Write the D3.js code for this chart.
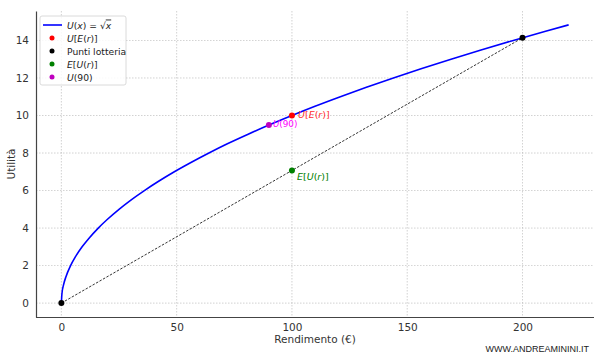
<!DOCTYPE html>
<html><head><meta charset="utf-8">
<script src="https://cdn.jsdelivr.net/npm/d3@7"></script>
<style>body{margin:0;background:#fff}svg{display:block;font-family:"DejaVu Sans",sans-serif}</style>
</head><body><svg id="c" width="600" height="358"></svg>
<script>
// curve samples U(x)
const curveX = [0,0.25,1,2,4,6,9,12,16,20,25,30,36,42,49,56,64,72,81,90,100,110,121,132,144,156,169,182,196,210,220];
const curveY = [0,0.5,1,1.41,2,2.45,3,3.46,4,4.47,5,5.48,6,6.48,7,7.48,8,8.49,9,9.49,10,10.49,11,11.49,12,12.49,13,13.49,14,14.49,14.83];
const lotteryX = [0,200];
const lotteryY = [0,14.14];
const uerX = [100], uerY = [10];
const euX = [100], euY = [7.07];
const u90X = [90], u90Y = [9.49];
const xTicks = [0,50,100,150,200];
const yTicks = [0,2,4,6,8,10,12,14];

const svg = d3.select("#c");
const L=36,R=594,T=11,B=317;
const x = d3.scaleLinear().domain([-11,231]).range([L,R]);
const y = d3.scaleLinear().domain([-0.74,15.57]).range([B,T]);

// grid
const g = svg.append("g");
g.selectAll(".gx").data(xTicks).join("line").attr("x1",d=>x(d)).attr("x2",d=>x(d)).attr("y1",T).attr("y2",B)
 .attr("stroke","#b0b0b0").attr("stroke-width",0.8).attr("stroke-dasharray","1.5,1.5").attr("opacity",0.7);
g.selectAll(".gy").data(yTicks).join("line").attr("x1",L).attr("x2",R).attr("y1",d=>y(d)).attr("y2",d=>y(d))
 .attr("stroke","#b0b0b0").attr("stroke-width",0.8).attr("stroke-dasharray","1.5,1.5").attr("opacity",0.7);

// axes
const xa = svg.append("g").attr("transform",`translate(0,${B})`).call(d3.axisBottom(x).tickValues(xTicks).tickSize(0).tickPadding(7).tickSizeOuter(0));
const ya = svg.append("g").attr("transform",`translate(${L},0)`).call(d3.axisLeft(y).tickValues(yTicks).tickSize(0).tickPadding(7).tickSizeOuter(0));
[xa,ya].forEach(a=>{a.select(".domain").attr("stroke","#444").attr("stroke-width",1.2);a.selectAll("text").attr("font-size",10.5).attr("fill","#333").attr("font-family","DejaVu Sans");});
xa.select(".domain").attr("d",`M${L},0.5H${R}`);

svg.append("text").attr("x",(L+R)/2).attr("y",343).attr("text-anchor","middle").attr("font-size",10.5).attr("fill","#333").text("Rendimento (€)");
svg.append("text").attr("transform",`translate(15,${(T+B)/2}) rotate(-90)`).attr("text-anchor","middle").attr("font-size",10.5).attr("fill","#333").text("Utilità");

// curve
const pts = curveX.map((v,i)=>[v,curveY[i]]);
svg.append("path").datum(pts).attr("d",d3.line().x(d=>x(d[0])).y(d=>y(d[1])).curve(d3.curveMonotoneX))
 .attr("fill","none").attr("stroke","#0000ff").attr("stroke-width",1.6);

// lottery dashed line
const lp = lotteryX.map((v,i)=>[v,lotteryY[i]]);
svg.append("path").datum(lp).attr("d",d3.line().x(d=>x(d[0])).y(d=>y(d[1])))
 .attr("fill","none").attr("stroke","#333").attr("stroke-width",1).attr("stroke-dasharray","2.5,1.5");

function dots(xs,ys,col){svg.selectAll(null).data(xs.map((v,i)=>[v,ys[i]])).join("circle").attr("cx",d=>x(d[0])).attr("cy",d=>y(d[1])).attr("r",3).attr("fill",col);}
dots(uerX,uerY,"#ff0000");
dots(lotteryX,lotteryY,"#000000");
dots(euX,euY,"#008000");
dots(u90X,u90Y,"#bf00bf");

function mathLabel(px,py,parts,col,fs){
  const t=svg.append("text").attr("x",px).attr("y",py).attr("font-size",fs||9.5).attr("fill",col);
  parts.forEach(p=>t.append("tspan").attr("font-style",p[1]?"italic":"normal").text(p[0]));
}
mathLabel(x(uerX[0])+6,y(uerY[0])+2,[["U",1],["[",0],["E",1],["(",0],["r",1],[")]",0]],"#ff3030");
mathLabel(x(u90X[0])+4,y(u90Y[0])+2,[["U",1],["(90)",0]],"#ff00ff",8.8);
mathLabel(x(euX[0])+5,y(euY[0])+10,[["E",1],["[",0],["U",1],["(",0],["r",1],[")]",0]],"#008000");

// legend
const lg = svg.append("g");
lg.append("rect").attr("x",40).attr("y",16).attr("width",86).attr("height",69).attr("rx",2).attr("fill","#fff").attr("fill-opacity",0.85).attr("stroke","#d0d0d0").attr("stroke-width",0.8);
const ly = [25,38,51,64,77];
lg.append("line").attr("x1",43).attr("x2",62).attr("y1",ly[0]).attr("y2",ly[0]).attr("stroke","#0000ff").attr("stroke-width",1.6);
const lc = ["#ff0000","#000000","#008000","#bf00bf"];
lc.forEach((c,i)=>lg.append("circle").attr("cx",52).attr("cy",ly[i+1]).attr("r",2.5).attr("fill",c));
const legParts = [
 [["U",1],["(",0],["x",1],[") = √",0],["x",1,1]],
 [["U",1],["[",0],["E",1],["(",0],["r",1],[")]",0]],
 [["Punti lotteria",0]],
 [["E",1],["[",0],["U",1],["(",0],["r",1],[")]",0]],
 [["U",1],["(90)",0]]
];
legParts.forEach((parts,i)=>{
  const t=lg.append("text").attr("x",67).attr("y",ly[i]+3.5).attr("font-size",9.2).attr("fill","#222");
  parts.forEach(p=>{const s=t.append("tspan").attr("font-style",p[1]?"italic":"normal").text(p[0]); if(p[2]) s.attr("text-decoration","overline");});
});

svg.append("text").attr("x",589).attr("y",352).attr("text-anchor","end").attr("font-size",9).attr("fill","#222").attr("font-family","Liberation Sans, Arial").text("WWW.ANDREAMININI.IT");
</script></body></html>
